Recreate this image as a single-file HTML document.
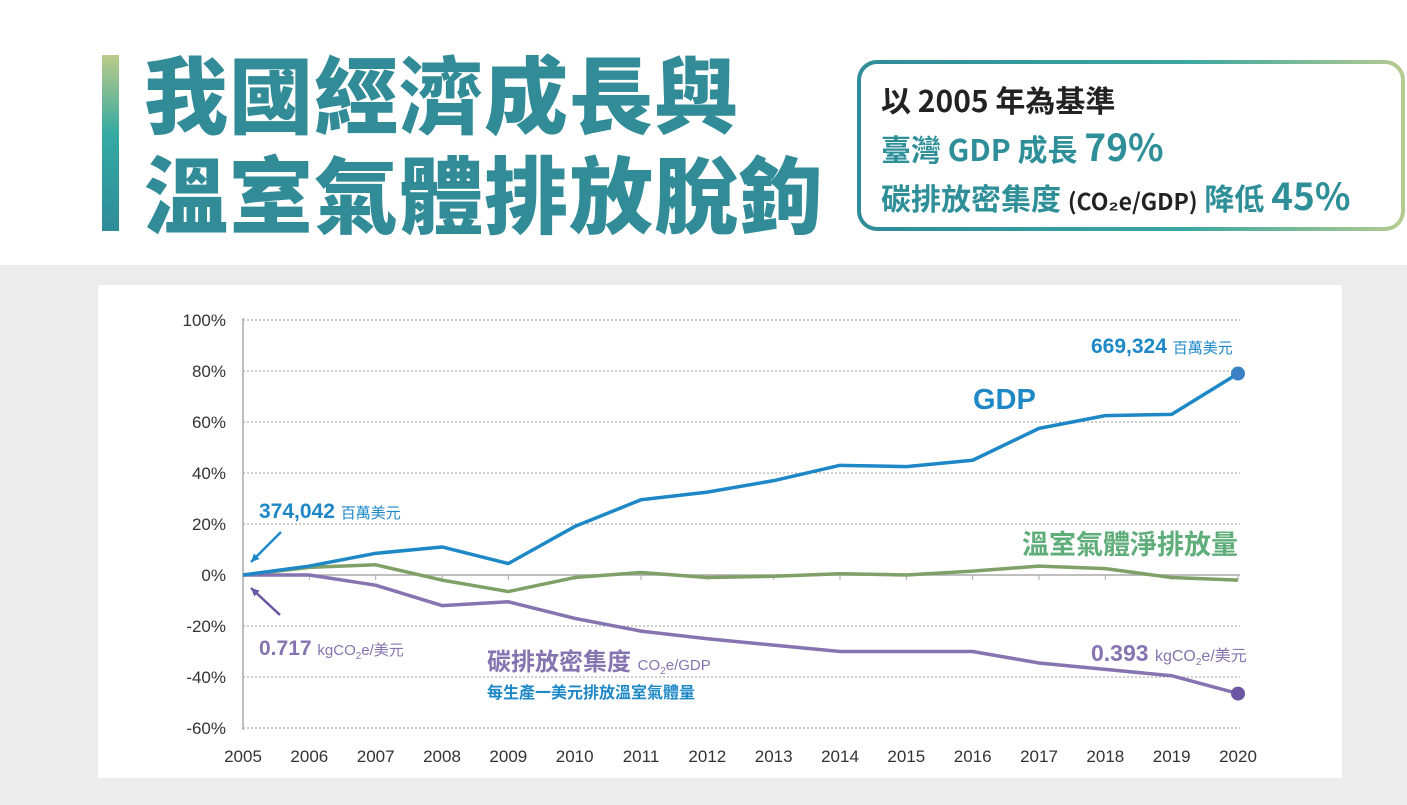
<!DOCTYPE html>
<html><head><meta charset="utf-8">
<style>
body{margin:0;width:1407px;height:805px;overflow:hidden;background:#fff;font-family:"Liberation Sans","Noto Sans CJK TC",sans-serif;position:relative}
.abs{position:absolute}
</style></head>
<body>
<div class="abs" style="left:0;top:265px;width:1407px;height:540px;background:#ececec"></div>
<div class="abs" style="left:102px;top:55px;width:17px;height:176px;background:linear-gradient(#bccb8a,#34aaa2 45%,#2f8c99)"></div>
<div class="abs" style="left:144px;top:42px;font-family:'Noto Sans CJK TC',sans-serif;font-weight:900;font-size:84px;line-height:100px;color:#318c98;letter-spacing:1px">我國經濟成長與<br>溫室氣體排放脫鉤</div>
<div class="abs" style="left:857px;top:60px;width:548px;height:171px;box-sizing:border-box;border-radius:20px;padding:4px;background:linear-gradient(90deg,#2f8c99,#3aa7a0 60%,#b6cb90)">
 <div style="background:#fff;border-radius:16px;width:100%;height:100%;box-sizing:border-box;padding:12px 0 0 20px;font-family:'Noto Sans CJK TC',sans-serif;font-weight:700;font-size:30px;line-height:46px">
  <div style="color:#222">以 2005 年為基準</div>
  <div style="color:#2f8f99">臺灣 GDP 成長 <span style="font-size:37px">79%</span></div>
  <div style="color:#2f8f99;white-space:nowrap">碳排放密集度 <span style="color:#222;font-size:23px">(CO₂e/GDP)</span> 降低 <span style="font-size:37px">45%</span></div>
 </div>
</div>
<div class="abs" style="left:98px;top:285px;width:1244px;height:493px;background:#fff"></div>
<svg id="chart" class="abs" style="left:0;top:0" width="1407" height="805" font-family="Liberation Sans, Noto Sans CJK TC, sans-serif"></svg>
<script>
const years=[2005,2006,2007,2008,2009,2010,2011,2012,2013,2014,2015,2016,2017,2018,2019,2020];
const gdp=[0,3.5,8.5,11,4.5,19,29.5,32.5,37,43,42.5,45,57.5,62.5,63,79];
const ghg=[0,3,4,-2,-6.5,-1,1,-1,-0.5,0.5,0,1.5,3.5,2.5,-1,-2];
const intensity=[0,0,-4,-12,-10.5,-17,-22,-25,-27.5,-30,-30,-30,-34.5,-37,-39.5,-46.5];
const yTicks=[100,80,60,40,20,0,-20,-40,-60];
const svg=document.getElementById('chart');
const NS='http://www.w3.org/2000/svg';
const x=i=>243+i*(1238-243)/(years.length-1);
const y=v=>575-v*2.55;
function mk(t,a,p){const e=document.createElementNS(NS,t);for(const k in a)e.setAttribute(k,a[k]);(p||svg).appendChild(e);return e;}
yTicks.forEach(v=>{
 const l=mk('line',{x1:243,x2:1240,y1:y(v),y2:y(v),stroke:'#999','stroke-dasharray':'2,2','stroke-width':1});
 
 
 const t=mk('text',{x:226,y:y(v)+6,'text-anchor':'end','font-size':17,fill:'#333'});t.textContent=v+'%';
 
 
});
const ax=mk('line',{x1:243,x2:243,y1:318,y2:730,stroke:'#aaa','stroke-width':1.5});


const zx=mk('line',{x1:243,x2:1240,y1:575,y2:575,stroke:'#aaa','stroke-width':1.5});


years.forEach((yr,i)=>{
 const tk=mk('line',{x1:x(i),x2:x(i),y1:575,y2:580,stroke:'#aaa'});
 
 
 const t=mk('text',{x:x(i),y:762,'text-anchor':'middle','font-size':17,fill:'#333'});t.textContent=yr;
 
 
});
function series(vals,color,name){
 const p=mk('polyline',{points:vals.map((v,i)=>x(i)+','+y(v)).join(' '),fill:'none',stroke:color,'stroke-width':3.5,'stroke-linejoin':'round'});
 
 
}
series(ghg,'#7fa067','ghg-line');
series(intensity,'#8574b0','intensity-line');
series(gdp,'#1e88c7','gdp-line');
const last=years.length-1;
const d1=mk('circle',{cx:x(last),cy:y(gdp[last]),r:7,fill:'#3b7fc4'});


const d2=mk('circle',{cx:x(last),cy:y(intensity[last]),r:7,fill:'#6b56a3'});


function txt(s,xx,yy,size,color,name,weight,anchor){const t=mk('text',{x:xx,y:yy,'font-size':size,fill:color,'font-weight':weight||'bold','text-anchor':anchor||'start'});t.innerHTML=s;
 
 return t;}
txt('669,324 <tspan font-size="15" font-weight="normal">百萬美元</tspan>',1091,353,21,'#1e88c7','gdp-end-label');
txt('GDP',973,409,29,'#1e88c7','gdp-series-label');
txt('溫室氣體淨排放量',1238,554,27,'#5fae7a','ghg-series-label','bold','end');
txt('374,042 <tspan font-size="15" font-weight="normal">百萬美元</tspan>',259,518,21,'#1e88c7','gdp-start-label');
txt('0.717 <tspan font-size="15" font-weight="normal">kgCO<tspan font-size="10" dy="4">2</tspan><tspan dy="-4">e/美元</tspan></tspan>',259,655,21,'#8574b0','intensity-start-label');
txt('0.393 <tspan font-size="16" font-weight="normal">kgCO<tspan font-size="10" dy="4">2</tspan><tspan dy="-4">e/美元</tspan></tspan>',1091,661,23,'#8574b0','intensity-end-label');
txt('碳排放密集度 <tspan font-size="15" font-weight="normal">CO<tspan font-size="10" dy="4">2</tspan><tspan dy="-4">e/GDP</tspan></tspan>',487,670,24,'#8574b0','intensity-series-label');
txt('每生產一美元排放溫室氣體量',487,698,16,'#1e88c7','intensity-description');
function arrow(x1,y1,x2,y2,color,name){
 const g=mk('g',{});
 
 
 mk('line',{x1:x1,y1:y1,x2:x2,y2:y2,stroke:color,'stroke-width':2.5},g);
 const a=Math.atan2(y2-y1,x2-x1),L=9;
 const p=[[x2,y2],[x2-L*Math.cos(a-0.45),y2-L*Math.sin(a-0.45)],[x2-L*Math.cos(a+0.45),y2-L*Math.sin(a+0.45)]];
 mk('polygon',{points:p.map(q=>q.join(',')).join(' '),fill:color},g);
}
arrow(281,532,251,562,'#1e88c7','gdp-start-arrow');
arrow(280,615,251,588,'#6b56a3','intensity-start-arrow');
</script>
</body></html>
